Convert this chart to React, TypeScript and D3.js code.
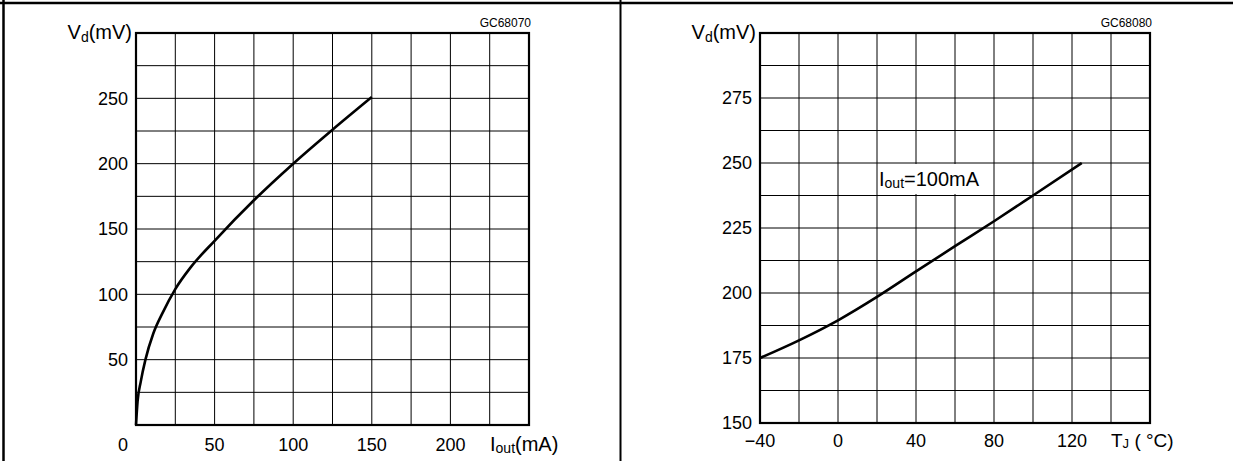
import React, { useEffect, useRef } from 'react';
import * as d3 from 'd3';

// Left chart: dropout voltage vs output current
const currentMA = [0, 1, 3, 6, 11, 17, 25, 35, 50, 75, 100, 125, 150];
const dropoutVsCurrent = [0, 18, 33, 50, 70, 86, 104, 121, 141, 172, 200, 226, 251];
const leftXTicks = [0, 50, 100, 150, 200];
const leftYTicks = [50, 100, 150, 200, 250];

// Right chart: dropout voltage vs junction temperature (Iout = 100mA)
const tempC = [-40, -20, 0, 20, 40, 60, 80, 100, 125];
const dropoutVsTemp = [175, 181.8, 189.5, 198.5, 208.3, 218, 227.6, 237.5, 250];
const rightXTicks = [-40, 0, 40, 80, 120];
const rightYTicks = [150, 175, 200, 225, 250, 275];

const FONT = '"Liberation Sans", Arial, sans-serif';

export default function App() {
  const svgRef = useRef<SVGSVGElement>(null);

  useEffect(() => {
    if (!svgRef.current) return;
    const svg = d3.select(svgRef.current);
    svg.selectAll('*').remove();

    const width = 1233;
    const height = 461;
    svg.attr('width', width).attr('height', height);

    svg.append('rect').attr('width', width).attr('height', height).attr('fill', '#fff');

    // outer frame: top, left and middle divider
    svg.append('line').attr('x1', 0).attr('x2', width).attr('y1', 3).attr('y2', 3)
      .attr('stroke', '#000').attr('stroke-width', 2.5);
    svg.append('line').attr('x1', 3.5).attr('x2', 3.5).attr('y1', 0).attr('y2', height)
      .attr('stroke', '#000').attr('stroke-width', 2.5);
    svg.append('line').attr('x1', 620.5).attr('x2', 620.5).attr('y1', 0).attr('y2', height)
      .attr('stroke', '#000').attr('stroke-width', 2);

    const drawPanel = (opts: {
      x: d3.ScaleLinear<number, number>;
      y: d3.ScaleLinear<number, number>;
      xGrid: number[];
      yGrid: number[];
      xTicks: number[];
      yTicks: number[];
      xs: number[];
      ys: number[];
      code: string;
      xLabelY: number;
      zeroShift: number;
    }) => {
      const { x, y } = opts;
      const [x0, x1] = x.range();
      const [y0, y1] = y.range();
      const g = svg.append('g');

      // grid
      g.selectAll('.vg').data(opts.xGrid).enter().append('line')
        .attr('x1', d => x(d)).attr('x2', d => x(d))
        .attr('y1', y0).attr('y2', y1)
        .attr('stroke', '#000').attr('stroke-width', 1);
      g.selectAll('.hg').data(opts.yGrid).enter().append('line')
        .attr('x1', x0).attr('x2', x1)
        .attr('y1', d => y(d)).attr('y2', d => y(d))
        .attr('stroke', '#000').attr('stroke-width', 1);

      // plot border
      g.append('rect')
        .attr('x', x0).attr('y', y1)
        .attr('width', x1 - x0).attr('height', y0 - y1)
        .attr('fill', 'none').attr('stroke', '#000').attr('stroke-width', 2.2);

      // curve
      const line = d3.line<number>()
        .x((_, i) => x(opts.xs[i]))
        .y(d => y(d))
        .curve(d3.curveMonotoneX);
      g.append('path')
        .datum(opts.ys)
        .attr('d', line)
        .attr('fill', 'none')
        .attr('stroke', '#000')
        .attr('stroke-width', 2.6)
        .attr('stroke-linejoin', 'round');

      // y tick labels
      g.selectAll('.yl').data(opts.yTicks).enter().append('text')
        .attr('x', x0 - 8)
        .attr('y', d => y(d))
        .attr('dy', '0.35em')
        .attr('text-anchor', 'end')
        .style('font-family', FONT)
        .style('font-size', '18px')
        .text(d => String(d));

      // x tick labels
      g.selectAll('.xl').data(opts.xTicks).enter().append('text')
        .attr('x', (d, i) => x(d) + (i === 0 ? opts.zeroShift : 0))
        .attr('y', opts.xLabelY)
        .attr('text-anchor', 'middle')
        .style('font-family', FONT)
        .style('font-size', '18px')
        .text(d => (d < 0 ? '\u2212' + Math.abs(d) : String(d)));

      // y axis title Vd(mV)
      const yt = g.append('text')
        .attr('x', x0 - 4)
        .attr('y', y1 + 6)
        .attr('text-anchor', 'end')
        .style('font-family', FONT)
        .style('font-size', '20px');
      yt.append('tspan').text('V');
      yt.append('tspan').attr('dy', 3).style('font-size', '14px').text('d');
      yt.append('tspan').attr('dy', -3).text('(mV)');

      // figure code
      g.append('text')
        .attr('x', x1 + 2)
        .attr('y', y1 - 6)
        .attr('text-anchor', 'end')
        .style('font-family', FONT)
        .style('font-size', '12px')
        .text(opts.code);

      return g;
    };

    const xL = d3.scaleLinear().domain([0, 250]).range([136, 529]);
    const yL = d3.scaleLinear().domain([0, 300]).range([425, 33]);
    const left = drawPanel({
      x: xL, y: yL,
      xGrid: d3.range(25, 250, 25), yGrid: d3.range(25, 300, 25),
      xTicks: leftXTicks, yTicks: leftYTicks,
      xs: currentMA, ys: dropoutVsCurrent,
      code: 'GC68070', xLabelY: 451, zeroShift: -13,
    });
    const xt = left.append('text')
      .attr('x', xL(250) - 39)
      .attr('y', 451)
      .style('font-family', FONT)
      .style('font-size', '20px');
    xt.append('tspan').text('I');
    xt.append('tspan').attr('dy', 2).style('font-size', '14px').text('out');
    xt.append('tspan').attr('dy', -2).text('(mA)');

    const xR = d3.scaleLinear().domain([-40, 160]).range([760, 1150]);
    const yR = d3.scaleLinear().domain([150, 300]).range([423, 33]);
    const right = drawPanel({
      x: xR, y: yR,
      xGrid: d3.range(-20, 160, 20), yGrid: d3.range(162.5, 300, 12.5),
      xTicks: rightXTicks, yTicks: rightYTicks,
      xs: tempC, ys: dropoutVsTemp,
      code: 'GC68080', xLabelY: 447, zeroShift: 0,
    });
    const tt = right.append('text')
      .attr('x', xR(160) - 39)
      .attr('y', 447)
      .style('font-family', FONT)
      .style('font-size', '19px');
    tt.append('tspan').text('T');
    tt.append('tspan').attr('dy', 1).style('font-size', '13px').text('J');
    tt.append('tspan').attr('dy', -1).text(' ( °C)');

    // Iout = 100mA annotation with white backing
    const ax = xR(20);
    const ay = yR(250);
    right.append('rect')
      .attr('x', ax + 1).attr('y', ay + 1)
      .attr('width', 114).attr('height', 30)
      .attr('fill', '#fff');
    const an = right.append('text')
      .attr('x', ax + 2)
      .attr('y', ay + 23)
      .style('font-family', FONT)
      .style('font-size', '20px');
    an.append('tspan').text('I');
    an.append('tspan').attr('dy', 2).style('font-size', '14px').text('out');
    an.append('tspan').attr('dy', -2).text('=100mA');
  }, []);

  return (
    <div style={{ position: 'absolute', left: 0, top: 0 }}>
      <svg ref={svgRef} style={{ display: 'block' }}></svg>
    </div>
  );
}
